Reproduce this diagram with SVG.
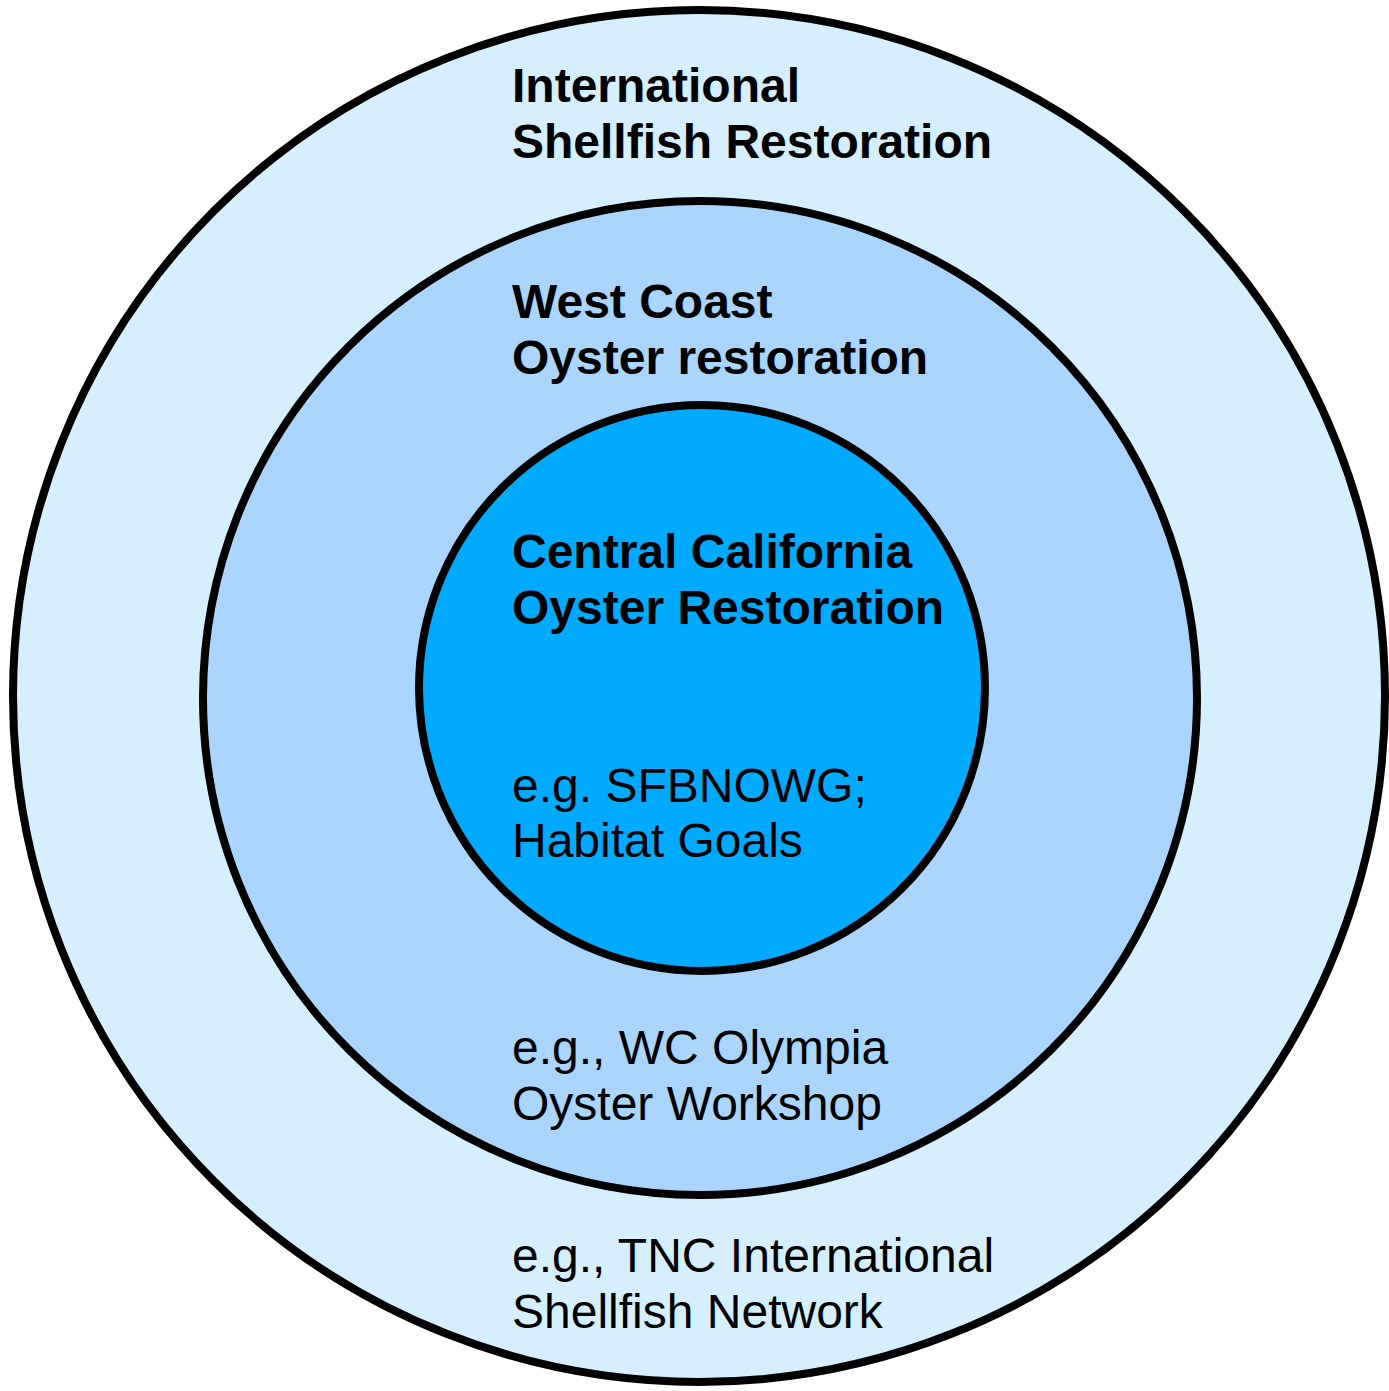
<svg xmlns="http://www.w3.org/2000/svg" width="1389" height="1391" viewBox="0 0 1389 1391">
<style>
.ring{stroke:#000;stroke-width:8}
.t{font-family:"Liberation Sans",Arial,sans-serif;font-size:48px;fill:#000}
.b{font-weight:bold}
</style>
<rect width="1389" height="1391" fill="#fff"/>
<g id="international">
<circle class="ring" cx="699" cy="696" r="686" fill="#d5efff"/>
<text class="t b" x="512" y="102">International</text>
<text class="t b" x="512" y="158">Shellfish Restoration</text>
<text class="t" x="512" y="1272">e.g., TNC International</text>
<text class="t" x="512" y="1328">Shellfish Network</text>
</g>
<g id="westcoast">
<circle class="ring" cx="700" cy="698" r="497" fill="#a9d5fe"/>
<text class="t b" x="512" y="318">West Coast</text>
<text class="t b" x="512" y="374">Oyster restoration</text>
<text class="t" x="512" y="1064">e.g., WC Olympia</text>
<text class="t" x="512" y="1120">Oyster Workshop</text>
</g>
<g id="central">
<circle class="ring" cx="702" cy="688" r="283" fill="#00aaff"/>
<text class="t b" x="512" y="568">Central California</text>
<text class="t b" x="512" y="624">Oyster Restoration</text>
<text class="t" x="512" y="802">e.g. SFBNOWG;</text>
<text class="t" x="512" y="857">Habitat Goals</text>
</g>
<g id="connectors"/>
</svg>
